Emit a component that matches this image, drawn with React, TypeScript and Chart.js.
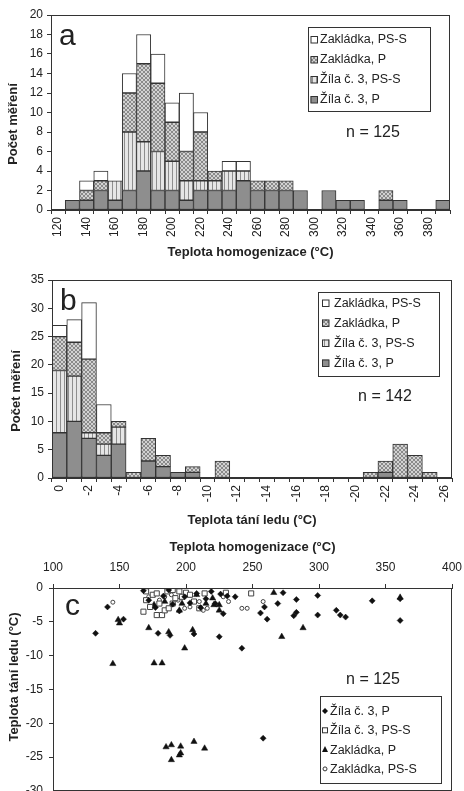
import React, { useEffect, useRef } from 'react';
import { Chart, registerables } from 'chart.js';

Chart.register(...registerables);
Chart.defaults.font.family = '"Liberation Sans", Arial, Helvetica, sans-serif';
Chart.defaults.color = '#222';

// ---------- Panel a: homogenization temperature histogram ----------
const homogBins = [120, 130, 140, 150, 160, 170, 180, 190, 200, 210, 220, 230, 240, 250, 260, 270, 280, 290, 300, 310, 320, 330, 340, 350, 360, 370, 380, 390];
const homogZilaP = [0, 1, 1, 2, 1, 2, 4, 2, 2, 1, 2, 2, 2, 3, 2, 2, 2, 2, 0, 2, 1, 1, 0, 1, 1, 0, 0, 1];
const homogZilaPSS = [0, 0, 0, 0, 2, 6, 3, 4, 3, 2, 1, 1, 2, 1, 0, 0, 0, 0, 0, 0, 0, 0, 0, 0, 0, 0, 0, 0];
const homogZaklP = [0, 0, 1, 1, 0, 4, 8, 7, 4, 3, 5, 1, 0, 0, 1, 1, 1, 0, 0, 0, 0, 0, 0, 1, 0, 0, 0, 0];
const homogZaklPSS = [0, 0, 1, 1, 0, 2, 3, 3, 2, 6, 2, 0, 1, 1, 0, 0, 0, 0, 0, 0, 0, 0, 0, 0, 0, 0, 0, 0];

// ---------- Panel b: ice melting temperature histogram ----------
const iceBins = ['0', '-1', '-2', '-3', '-4', '-5', '-6', '-7', '-8', '-9', '-10', '-11', '-12', '-13', '-14', '-15', '-16', '-17', '-18', '-19', '-20', '-21', '-22', '-23', '-24', '-25', '-26'];
const iceZilaP = [8, 10, 7, 4, 6, 0, 3, 2, 1, 1, 0, 0, 0, 0, 0, 0, 0, 0, 0, 0, 0, 0, 1, 0, 0, 0, 0];
const iceZilaPSS = [11, 8, 1, 2, 3, 0, 0, 0, 0, 0, 0, 0, 0, 0, 0, 0, 0, 0, 0, 0, 0, 0, 0, 0, 0, 0, 0];
const iceZaklP = [6, 6, 13, 2, 1, 1, 4, 2, 0, 1, 0, 3, 0, 0, 0, 0, 0, 0, 0, 0, 0, 1, 2, 6, 4, 1, 0];
const iceZaklPSS = [2, 4, 10, 5, 0, 0, 0, 0, 0, 0, 0, 0, 0, 0, 0, 0, 0, 0, 0, 0, 0, 0, 0, 0, 0, 0, 0];

// ---------- Panel c: scatter [Th, Tm ice] ----------
const scatZilaP: [number, number][] = [
  [132, -6.7], [141, -2.8], [153, -4.6], [168, -0.4], [172, -1.8], [177, -2.9], [179, -6.7], [183, -1.2],
  [187, -0.3], [188, -7.0], [190, -2.4], [195, -3.4], [199, -1.3], [203, -2.2], [206, -6.8], [208, -0.8],
  [211, -2.9], [215, -1.6], [219, -0.5], [222, -2.3], [225, -7.2], [226, -0.9], [228, -3.8], [231, -1.2],
  [237, -1.3], [242, -8.9], [256, -3.7], [258, -22.2], [259, -2.8], [261, -4.6], [269, -2.3], [273, -0.7],
  [281, -4.1], [283, -1.7], [283, -3.6], [299, -1.1], [299, -4.0], [313, -3.3], [316, -4.0], [320, -4.3],
  [340, -1.9], [361, -1.6], [361, -4.8],
];
const scatZilaPSS: [number, number][] = [
  [168, -3.5], [170, -0.5], [170, -1.8], [173, -2.8], [175, -1.0], [178, -0.8], [178, -4.0], [180, -2.3],
  [182, -4.0], [184, -3.3], [186, -0.5], [187, -3.0], [190, -0.3], [190, -2.3], [192, -1.5], [195, -0.5],
  [197, -1.3], [200, -0.7], [203, -1.0], [206, -2.0], [210, -3.0], [214, -0.8], [230, -0.7], [249, -0.8],
];
const scatZaklP: [number, number][] = [
  [145, -11.2], [149, -4.7], [150, -5.2], [172, -5.9], [176, -2.5], [176, -11.1], [182, -11.1], [184, -2.0],
  [185, -23.5], [187, -6.5], [189, -23.2], [189, -25.4], [195, -24.7], [195, -3.3], [196, -23.4], [196, -24.4],
  [197, -2.3], [199, -8.9], [205, -6.2], [206, -22.7], [208, -1.0], [214, -23.7], [215, -2.3], [220, -1.5],
  [221, -2.5], [225, -2.5], [225, -3.3], [266, -0.7], [272, -7.2], [288, -5.9], [361, -1.4],
];
const scatZaklPSS: [number, number][] = [
  [145, -2.1], [172, -1.3], [180, -1.8], [184, -1.3], [189, -1.0], [194, -1.8], [199, -3.0], [203, -2.8],
  [210, -2.0], [213, -3.3], [216, -3.0], [228, -1.3], [232, -2.0], [242, -3.0], [246, -3.0], [258, -2.0],
];

const LBL_ZAKL_PSS = 'Zakládka, PS-S';
const LBL_ZAKL_P = 'Zakládka, P';
const LBL_ZILA_PSS = 'Žíla č. 3, PS-S';
const LBL_ZILA_P = 'Žíla č. 3, P';

const INK = '#222';
const EDGE = '#333';
const FONT = '"Liberation Sans", Arial, Helvetica, sans-serif';

type Fills = { dark: any; vert: any; cross: any; white: any };

function makeFills(): Fills {
  const mk = (draw: (g: CanvasRenderingContext2D) => void) => {
    const c = document.createElement('canvas');
    c.width = 4; c.height = 4;
    const g = c.getContext('2d')!;
    draw(g);
    return g.createPattern(c, 'repeat');
  };
  const vert = mk((g) => {
    g.fillStyle = '#e6e6e6'; g.fillRect(0, 0, 4, 4);
    g.fillStyle = '#8e8e8e'; g.fillRect(0, 0, 1, 4);
  });
  const cross = mk((g) => {
    g.fillStyle = '#d2d2d2'; g.fillRect(0, 0, 4, 4);
    g.fillStyle = '#8a8a8a';
    [[0, 0], [1, 1], [2, 2], [3, 3], [3, 0], [2, 1], [1, 2], [0, 3]].forEach(([x, y]) => g.fillRect(x, y, 1, 1));
  });
  return { dark: '#8e8e8e', vert, cross, white: '#ffffff' };
}

function drawMarker(ctx: CanvasRenderingContext2D, kind: string, fill: any, cx: number, cy: number) {
  ctx.save();
  ctx.lineWidth = 1;
  ctx.strokeStyle = EDGE;
  if (kind === 'box') {
    ctx.fillStyle = fill;
    ctx.fillRect(cx - 3.5, cy - 3.5, 7, 7);
    ctx.strokeRect(cx - 3, cy - 3, 6.5, 6.5);
  } else if (kind === 'diamond') {
    ctx.fillStyle = '#111';
    ctx.beginPath();
    ctx.moveTo(cx, cy - 3); ctx.lineTo(cx + 3, cy); ctx.lineTo(cx, cy + 3); ctx.lineTo(cx - 3, cy);
    ctx.closePath(); ctx.fill();
  } else if (kind === 'square') {
    ctx.fillStyle = '#fff';
    ctx.fillRect(cx - 2.5, cy - 2.5, 5, 5);
    ctx.strokeRect(cx - 2.5, cy - 2.5, 5, 5);
  } else if (kind === 'triangle') {
    ctx.fillStyle = '#111';
    ctx.beginPath();
    ctx.moveTo(cx, cy - 3.5); ctx.lineTo(cx + 3, cy + 2.5); ctx.lineTo(cx - 3, cy + 2.5);
    ctx.closePath(); ctx.fill();
  } else if (kind === 'circle') {
    ctx.fillStyle = '#fff';
    ctx.beginPath(); ctx.arc(cx, cy, 2, 0, Math.PI * 2); ctx.fill(); ctx.stroke();
  }
  ctx.restore();
}

const decorPlugin = {
  id: 'decor',
  afterDraw(chart: any, _args: any, opts: any) {
    const { ctx, chartArea: a } = chart;
    ctx.save();
    ctx.strokeStyle = EDGE;
    ctx.lineWidth = 1;
    ctx.strokeRect(Math.round(a.left) + 0.5, Math.round(a.top) + 0.5, Math.round(a.right - a.left) - 1, Math.round(a.bottom - a.top) - 1);
    if (opts.yTitle) {
      ctx.save();
      ctx.fillStyle = INK;
      ctx.font = `bold 13px ${FONT}`;
      ctx.textAlign = 'center';
      ctx.textBaseline = 'middle';
      ctx.translate(opts.yTitle.x, opts.yTitle.y);
      ctx.rotate(-Math.PI / 2);
      ctx.fillText(opts.yTitle.text, 0, 0);
      ctx.restore();
    }
    if (opts.letter) {
      ctx.fillStyle = INK;
      ctx.font = `30px ${FONT}`;
      ctx.textBaseline = 'alphabetic';
      ctx.textAlign = 'left';
      ctx.fillText(opts.letter.text, opts.letter.x, opts.letter.y);
    }
    if (opts.n) {
      ctx.fillStyle = INK;
      ctx.font = `16px ${FONT}`;
      ctx.textBaseline = 'middle';
      ctx.textAlign = 'center';
      ctx.fillText(opts.n.text, opts.n.x, opts.n.y);
    }
    if (opts.legend) {
      const L = opts.legend;
      ctx.fillStyle = '#fff';
      ctx.fillRect(L.x, L.y, L.w, L.h);
      ctx.strokeStyle = EDGE;
      ctx.strokeRect(L.x + 0.5, L.y + 0.5, L.w, L.h);
      ctx.font = `12.5px ${FONT}`;
      ctx.textBaseline = 'middle';
      ctx.textAlign = 'left';
      L.items.forEach((it: any, i: number) => {
        const cy = L.y0 + i * L.dy;
        drawMarker(ctx, it.kind, it.fill, L.mx, cy);
        ctx.fillStyle = INK;
        ctx.fillText(it.label, L.tx, cy + 0.5);
      });
    }
    ctx.restore();
  },
};

const noPad = (s: any) => { s.paddingTop = 0; s.paddingBottom = 0; s.paddingLeft = 0; s.paddingRight = 0; };

function barConfig(p: {
  labels: (string | number)[];
  series: { label: string; data: number[]; fill: any }[];
  max: number; step: number; xTitle: string;
  padTop: number; padRight: number; yW: number; xH: number; decor: any;
}) {
  return {
    type: 'bar' as const,
    data: {
      labels: p.labels,
      datasets: p.series.map((s) => ({
        label: s.label,
        data: s.data.map((v) => (v === 0 ? null : v)),
        backgroundColor: s.fill,
        borderColor: EDGE,
        borderWidth: 1,
        borderSkipped: false,
        barPercentage: 1,
        categoryPercentage: 1,
      })),
    },
    options: {
      responsive: false,
      animation: false,
      events: [],
      layout: { padding: { left: 0, right: p.padRight, top: p.padTop, bottom: 0 } },
      plugins: { legend: { display: false }, tooltip: { enabled: false }, decor: p.decor },
      scales: {
        x: {
          stacked: true,
          offset: true,
          grid: { display: true, drawOnChartArea: false, drawTicks: true, tickLength: 4, color: EDGE, offset: true },
          border: { color: EDGE, width: 1 },
          ticks: {
            autoSkip: false, maxRotation: 90, minRotation: 90, padding: 3, color: INK,
            font: { size: 12 },
            callback: function (this: any, v: any, i: number) { return i % 2 === 0 ? this.getLabelForValue(v) : ''; },
          },
          title: { display: true, text: p.xTitle, color: INK, font: { size: 13, weight: 'bold' }, padding: { top: 0, bottom: 2 } },
          afterFit: (s: any) => { s.height = p.xH; noPad(s); },
        },
        y: {
          stacked: true,
          min: 0, max: p.max,
          grid: { display: true, drawOnChartArea: false, drawTicks: true, tickLength: 4, color: EDGE },
          border: { color: EDGE, width: 1 },
          ticks: { stepSize: p.step, padding: 4, color: INK, font: { size: 12 } },
          title: { display: false },
          afterFit: (s: any) => { s.width = p.yW; noPad(s); },
        },
      },
    },
    plugins: [decorPlugin],
  };
}

function buildA(f: Fills) {
  return barConfig({
    labels: homogBins,
    series: [
      { label: LBL_ZILA_P, data: homogZilaP, fill: f.dark },
      { label: LBL_ZILA_PSS, data: homogZilaPSS, fill: f.vert },
      { label: LBL_ZAKL_P, data: homogZaklP, fill: f.cross },
      { label: LBL_ZAKL_PSS, data: homogZaklPSS, fill: f.white },
    ],
    max: 20, step: 2, xTitle: 'Teplota homogenizace (°C)',
    padTop: 15, padRight: 14, yW: 51, xH: 52,
    decor: {
      yTitle: { text: 'Počet měření', x: 13, y: 124 },
      letter: { text: 'a', x: 59, y: 45 },
      n: { text: 'n = 125', x: 373, y: 133 },
      legend: {
        x: 308, y: 27, w: 122, h: 84, y0: 39.5, dy: 20, mx: 314, tx: 320,
        items: [
          { label: LBL_ZAKL_PSS, kind: 'box', fill: f.white },
          { label: LBL_ZAKL_P, kind: 'box', fill: f.cross },
          { label: LBL_ZILA_PSS, kind: 'box', fill: f.vert },
          { label: LBL_ZILA_P, kind: 'box', fill: f.dark },
        ],
      },
    },
  });
}

function buildB(f: Fills) {
  return barConfig({
    labels: iceBins,
    series: [
      { label: LBL_ZILA_P, data: iceZilaP, fill: f.dark },
      { label: LBL_ZILA_PSS, data: iceZilaPSS, fill: f.vert },
      { label: LBL_ZAKL_P, data: iceZaklP, fill: f.cross },
      { label: LBL_ZAKL_PSS, data: iceZaklPSS, fill: f.white },
    ],
    max: 35, step: 5, xTitle: 'Teplota tání ledu (°C)',
    padTop: 18, padRight: 12, yW: 52, xH: 52,
    decor: {
      yTitle: { text: 'Počet měření', x: 16, y: 129 },
      letter: { text: 'b', x: 60, y: 48 },
      n: { text: 'n = 142', x: 385, y: 135 },
      legend: {
        x: 318, y: 30, w: 121, h: 84, y0: 41, dy: 20, mx: 325.5, tx: 334,
        items: [
          { label: LBL_ZAKL_PSS, kind: 'box', fill: f.white },
          { label: LBL_ZAKL_P, kind: 'box', fill: f.cross },
          { label: LBL_ZILA_PSS, kind: 'box', fill: f.vert },
          { label: LBL_ZILA_P, kind: 'box', fill: f.dark },
        ],
      },
    },
  });
}

function buildC() {
  const pts = (arr: [number, number][]) => arr.map(([x, y]) => ({ x, y }));
  return {
    type: 'scatter' as const,
    data: {
      datasets: [
        { label: LBL_ZILA_P, data: pts(scatZilaP), pointStyle: 'rectRot', pointRadius: 3, backgroundColor: '#111', borderColor: '#111', borderWidth: 0.5 },
        { label: LBL_ZILA_PSS, data: pts(scatZilaPSS), pointStyle: 'rect', pointRadius: 3.6, backgroundColor: '#fff', borderColor: '#444', borderWidth: 1 },
        { label: LBL_ZAKL_P, data: pts(scatZaklP), pointStyle: 'triangle', pointRadius: 3.6, backgroundColor: '#111', borderColor: '#111', borderWidth: 0.5 },
        { label: LBL_ZAKL_PSS, data: pts(scatZaklPSS), pointStyle: 'circle', pointRadius: 2, backgroundColor: '#fff', borderColor: '#444', borderWidth: 1 },
      ],
    },
    options: {
      responsive: false,
      animation: false,
      events: [],
      layout: { padding: { left: 0, right: 12, top: 0, bottom: 9 } },
      plugins: {
        legend: { display: false }, tooltip: { enabled: false },
        decor: {
          yTitle: { text: 'Teplota tání ledu (°C)', x: 14, y: 147 },
          letter: { text: 'c', x: 65, y: 85 },
          n: { text: 'n = 125', x: 373, y: 150 },
          legend: {
            x: 320, y: 166, w: 121, h: 87, y0: 181, dy: 19.3, mx: 325, tx: 330,
            items: [
              { label: LBL_ZILA_P, kind: 'diamond' },
              { label: LBL_ZILA_PSS, kind: 'square' },
              { label: LBL_ZAKL_P, kind: 'triangle' },
              { label: LBL_ZAKL_PSS, kind: 'circle' },
            ],
          },
        },
      },
      scales: {
        x: {
          type: 'linear', position: 'top', min: 100, max: 400,
          grid: { display: true, drawOnChartArea: false, drawTicks: true, tickLength: 4, color: EDGE },
          border: { color: EDGE, width: 1 },
          ticks: { stepSize: 50, padding: 9, color: INK, font: { size: 12 } },
          title: { display: true, text: 'Teplota homogenizace (°C)', color: INK, font: { size: 13, weight: 'bold' }, padding: { top: 10, bottom: 0 } },
          afterFit: (s: any) => { s.height = 58; noPad(s); },
        },
        y: {
          type: 'linear', min: -30, max: 0,
          grid: { display: true, drawOnChartArea: false, drawTicks: true, tickLength: 4, color: EDGE },
          border: { color: EDGE, width: 1 },
          ticks: { stepSize: 5, padding: 6, color: INK, font: { size: 12 } },
          title: { display: false },
          afterFit: (s: any) => { s.width = 53; noPad(s); },
        },
      },
    },
    plugins: [decorPlugin],
  };
}

function ChartCanvas({ top, height, build }: { top: number; height: number; build: (f: Fills) => any }) {
  const ref = useRef<HTMLCanvasElement>(null);
  useEffect(() => {
    const fills = makeFills();
    const chart = new Chart(ref.current!, build(fills));
    return () => chart.destroy();
  }, []);
  return (
    <canvas
      ref={ref}
      width={464}
      height={height}
      style={{ position: 'absolute', left: 0, top, width: 464, height, display: 'block' }}
    />
  );
}

export default function App() {
  return (
    <div style={{ position: 'absolute', left: 0, top: 0, width: 464, height: 791, overflow: 'hidden', background: '#fff' }}>
      <ChartCanvas top={0} height={262} build={buildA} />
      <ChartCanvas top={262} height={268} build={buildB} />
      <ChartCanvas top={530} height={270} build={() => buildC()} />
    </div>
  );
}
